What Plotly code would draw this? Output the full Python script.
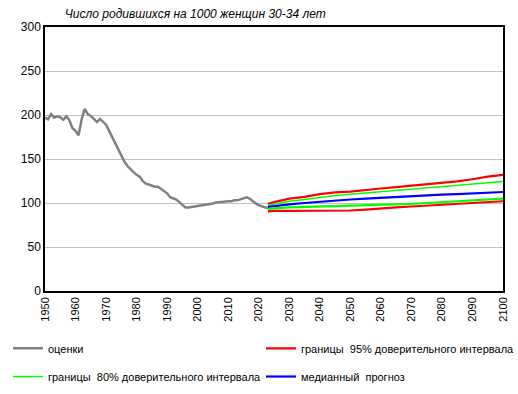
import plotly.graph_objects as go

# ---- data ----
est_years = list(range(1950, 2024))
est_values = [197, 195, 201, 197, 198.5, 197.5, 194.5, 198.5, 194, 185,
              182, 177, 195, 207, 201, 199, 195.5, 192, 195.5, 192,
              189, 182, 175, 168, 162, 155, 147, 142, 138, 135,
              132, 130, 125, 122, 121, 120, 118.5, 118.5, 116, 113,
              111, 106.5, 105, 104, 101, 98, 95, 95, 95.5, 96,
              97, 97, 97.5, 97.7, 98.5, 99.5, 100.5, 101, 101, 102,
              102, 102, 103, 103, 104, 105.5, 106.5, 105, 102, 99.5,
              97.5, 96, 95, 94]

fc_years = [2023, 2025, 2030, 2035, 2040, 2045, 2050, 2055, 2060, 2065,
            2070, 2075, 2080, 2085, 2090, 2095, 2100]
ci95_upper = [99, 101, 105, 107, 110, 112, 113, 115, 116.5, 118,
              119.5, 121, 122.5, 124.5, 127, 130, 132]
ci80_upper = [97.5, 99, 102, 104, 106.5, 108.5, 110, 111.5, 113, 114.5,
              116, 117.5, 119, 120.5, 122, 123.5, 124.5]
median_fc = [95.5, 96.5, 98.5, 100, 101.5, 102.5, 104, 105, 106, 107,
             107.5, 108.5, 109.5, 110, 111, 112, 112.5]
ci80_lower = [93, 94, 95, 95.5, 96, 96, 96.5, 97, 97.5, 98,
              99, 100, 101, 102, 103, 104, 105]
ci95_lower = [90.5, 91, 91, 91, 91, 91.5, 91.5, 92.5, 94, 95,
              96, 97, 98, 99, 100, 101, 102]

x_ticks = list(range(1950, 2101, 10))
y_ticks = [0, 50, 100, 150, 200, 250, 300]

title_text = "Число родившихся на 1000 женщин 30-34 лет"
names = ["оценки", "границы  95% доверительного интервала",
         "границы  80% доверительного интервала", "медианный  прогноз"]

fig = go.Figure()
fig.add_trace(go.Scatter(x=est_years, y=est_values, mode="lines",
                         line=dict(color="#808080", width=2.5),
                         name=names[0], legend="legend"))
fig.add_trace(go.Scatter(x=fc_years, y=ci95_upper, mode="lines",
                         line=dict(color="#ff0000", width=2.2),
                         name=names[1], legend="legend2"))
fig.add_trace(go.Scatter(x=fc_years, y=ci80_upper, mode="lines",
                         line=dict(color="#00ff00", width=1.5),
                         name=names[2], legend="legend3"))
fig.add_trace(go.Scatter(x=fc_years, y=median_fc, mode="lines",
                         line=dict(color="#0000ff", width=2.2),
                         name=names[3], legend="legend4"))
fig.add_trace(go.Scatter(x=fc_years, y=ci80_lower, mode="lines",
                         line=dict(color="#00ff00", width=2.2),
                         name=names[2], showlegend=False))
fig.add_trace(go.Scatter(x=fc_years, y=ci95_lower, mode="lines",
                         line=dict(color="#ff0000", width=2.2),
                         name=names[1], showlegend=False))

font_family = "Liberation Sans, Arial, sans-serif"
leg_common = dict(orientation="h", xanchor="left", yanchor="top",
                  itemwidth=30, font=dict(size=11),
                  bgcolor="rgba(0,0,0,0)")
col1_x = -0.0808
col2_x = 0.4716
row1_y = -0.1624
row2_y = -0.269
fig.update_layout(
    width=518, height=394,
    margin=dict(l=45, r=15, t=27, b=103, autoexpand=False),
    paper_bgcolor="white", plot_bgcolor="white",
    font=dict(family=font_family, color="black", size=12),
    title=dict(text="<i>" + title_text + "</i>", x=0.125, xanchor="left",
               y=0.965, yanchor="middle", font=dict(size=12)),
    xaxis=dict(range=[1950, 2100], tickvals=x_ticks,
               ticktext=[str(t) for t in x_ticks], tickangle=-90,
               showgrid=False, showline=True, linecolor="black", linewidth=1.5,
               mirror=True, ticks="", tickfont=dict(size=11), zeroline=False),
    yaxis=dict(range=[0, 300], tickvals=y_ticks, showgrid=True,
               gridcolor="#c0c0c0", gridwidth=1, showline=True,
               linecolor="black", linewidth=1.5, mirror=True, ticks="",
               tickfont=dict(size=12), zeroline=False),
    legend=dict(x=col1_x, y=row1_y, **leg_common),
    legend2=dict(x=col2_x, y=row1_y, **leg_common),
    legend3=dict(x=col1_x, y=row2_y, **leg_common),
    legend4=dict(x=col2_x, y=row2_y, **leg_common),
    showlegend=True,
)

fig.write_html("out.html", config={"displayModeBar": False},
               post_script="document.body.style.margin='0';")
